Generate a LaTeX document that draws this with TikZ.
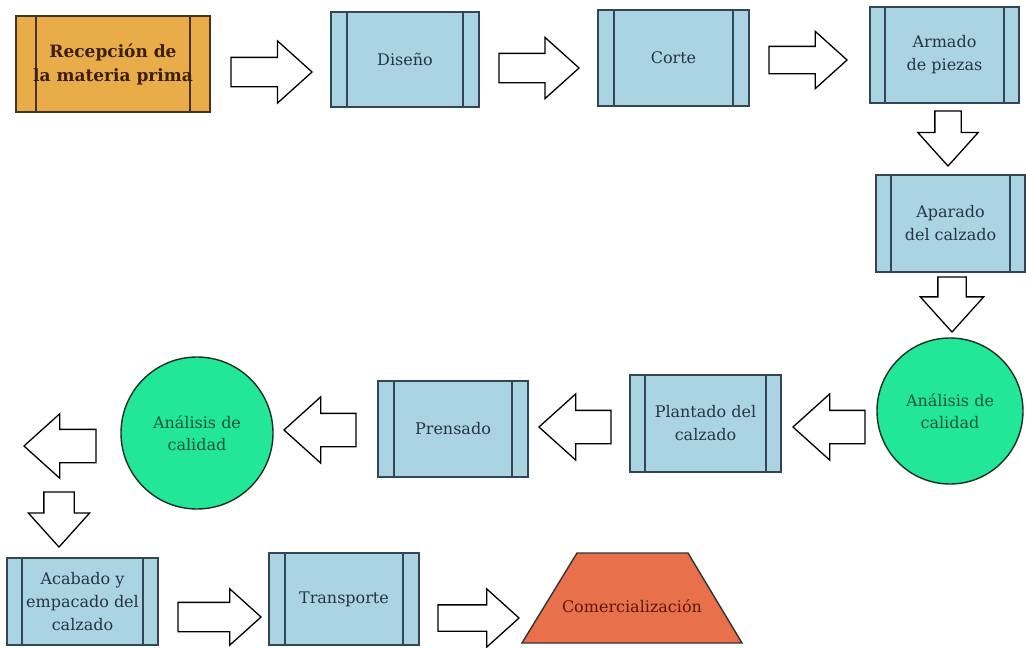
\documentclass[tikz,border=0pt]{standalone}
\usepackage{fontspec}
\setmainfont{DejaVu Serif}
\usetikzlibrary{shapes.geometric,shapes.arrows,calc}
\definecolor{boxblue}{RGB}{170,212,226}
\definecolor{procline}{RGB}{50,70,85}
\definecolor{proctext}{RGB}{40,52,64}
\definecolor{boxorange}{RGB}{232,172,72}
\definecolor{orangeline}{RGB}{70,50,30}
\definecolor{orangetext}{RGB}{60,30,15}
\definecolor{mint}{RGB}{34,230,152}
\definecolor{mintline}{RGB}{25,50,35}
\definecolor{minttext}{RGB}{30,85,55}
\definecolor{trapfill}{RGB}{232,112,74}
\definecolor{traptext}{RGB}{90,25,12}
\tikzset{
  proc/.style={draw=procline, fill=boxblue, line width=1.4pt, inner sep=0pt,
    align=center, font=\fontsize{16}{23}\selectfont, text=proctext,
    path picture={
      \draw[procline, line width=1.4pt]
        ([xshift=#1]path picture bounding box.north west) --
        ([xshift=#1]path picture bounding box.south west)
        ([xshift=-#1]path picture bounding box.north east) --
        ([xshift=-#1]path picture bounding box.south east);}},
  proc/.default=16pt,
  orangeproc/.style={proc=#1, fill=boxorange, draw=orangeline, text=orangetext,
    font=\fontsize{17}{24}\selectfont\bfseries,
    path picture={
      \draw[orangeline, line width=1.4pt]
        ([xshift=#1]path picture bounding box.north west) --
        ([xshift=#1]path picture bounding box.south west)
        ([xshift=-#1]path picture bounding box.north east) --
        ([xshift=-#1]path picture bounding box.south east);}},
  check/.style={circle, draw=mintline, fill=mint, line width=1.4pt, inner sep=0pt,
    align=center, font=\fontsize{16}{22}\selectfont, text=minttext},
  market/.style={draw=black!80, fill=trapfill, line width=1.4pt, line join=miter},
  markettext/.style={inner sep=0pt, font=\fontsize{16}{22}\selectfont, text=traptext},
  barrow/.style={single arrow, draw=black, fill=white, line width=1.3pt,
    inner xsep=0pt, single arrow tip angle=84, anchor=tip},
}
\begin{document}
\begin{tikzpicture}[x=1pt,y=-1pt]
\useasboundingbox[fill=white] (0,0) rectangle (1026,648);

% process nodes
\node[orangeproc=20pt, minimum width=194pt, minimum height=96pt] (b1) at (113,64) {Recepción de\\la materia prima};
\node[proc, minimum width=148pt, minimum height=95pt] (b2) at (405,59.5) {Diseño};
\node[proc, minimum width=151pt, minimum height=96pt] (b3) at (673.5,58) {Corte};
\node[proc=15pt, minimum width=149pt, minimum height=96pt] (b4) at (944.5,55) {Armado\\de piezas};
\node[proc=15pt, minimum width=149pt, minimum height=97pt] (b5) at (950.5,223.5) {Aparado\\del calzado};
\node[check, minimum size=146pt] (c1) at (950,411) {Análisis de\\calidad};
\node[proc=15pt, minimum width=151pt, minimum height=97pt] (b6) at (705.5,423.5) {Plantado del\\calzado};
\node[proc, minimum width=150pt, minimum height=96pt] (b7) at (453,429) {Prensado};
\node[check, minimum size=152pt] (c2) at (197,433) {Análisis de\\calidad};
\node[proc=15pt, minimum width=151pt, minimum height=87pt] (b8) at (82.5,601.5) {Acabado y\\empacado del\\calzado};
\node[proc, minimum width=150pt, minimum height=92pt] (b9) at (344,599) {Transporte};
\filldraw[market] (522,643) -- (577,553) -- (688,553) -- (742,643) -- cycle;
\node[markettext] (t1) at (632,606) {Comercialización};

% block arrows (inner ysep = half body width), placed by their tips
\node[barrow, minimum height=81pt, inner ysep=14pt, single arrow head extend=16.5pt] (a1) at (313,72) {};
\node[barrow, minimum height=80pt, inner ysep=14pt, single arrow head extend=16pt] (a2) at (580,68) {};
\node[barrow, minimum height=78pt, inner ysep=13pt, single arrow head extend=15pt] (a3) at (848,60) {};
\node[barrow, rotate=-90, minimum height=55pt, inner ysep=12.5pt, single arrow head extend=17pt] (d1) at (948,167) {};
\node[barrow, rotate=-90, minimum height=55pt, inner ysep=13.5pt, single arrow head extend=17.5pt] (d2) at (952,333) {};
\node[barrow, rotate=180, minimum height=72pt, inner ysep=16pt, single arrow head extend=16.5pt] (l1) at (792,427) {};
\node[barrow, rotate=180, minimum height=72pt, inner ysep=16pt, single arrow head extend=16.5pt] (l2) at (538,427) {};
\node[barrow, rotate=180, minimum height=72pt, inner ysep=16pt, single arrow head extend=16.5pt] (l3) at (283,430) {};
\node[barrow, rotate=180, minimum height=72pt, inner ysep=16pt, single arrow head extend=15.5pt] (l4) at (23,446) {};
\node[barrow, rotate=-90, minimum height=55pt, inner ysep=14.5pt, single arrow head extend=15.5pt] (d3) at (59,548) {};
\node[barrow, minimum height=83pt, inner ysep=14pt, single arrow head extend=13.5pt] (r4) at (262,617) {};
\node[barrow, minimum height=81pt, inner ysep=12.5pt, single arrow head extend=16pt] (r5) at (520,618) {};
\end{tikzpicture}
\end{document}
